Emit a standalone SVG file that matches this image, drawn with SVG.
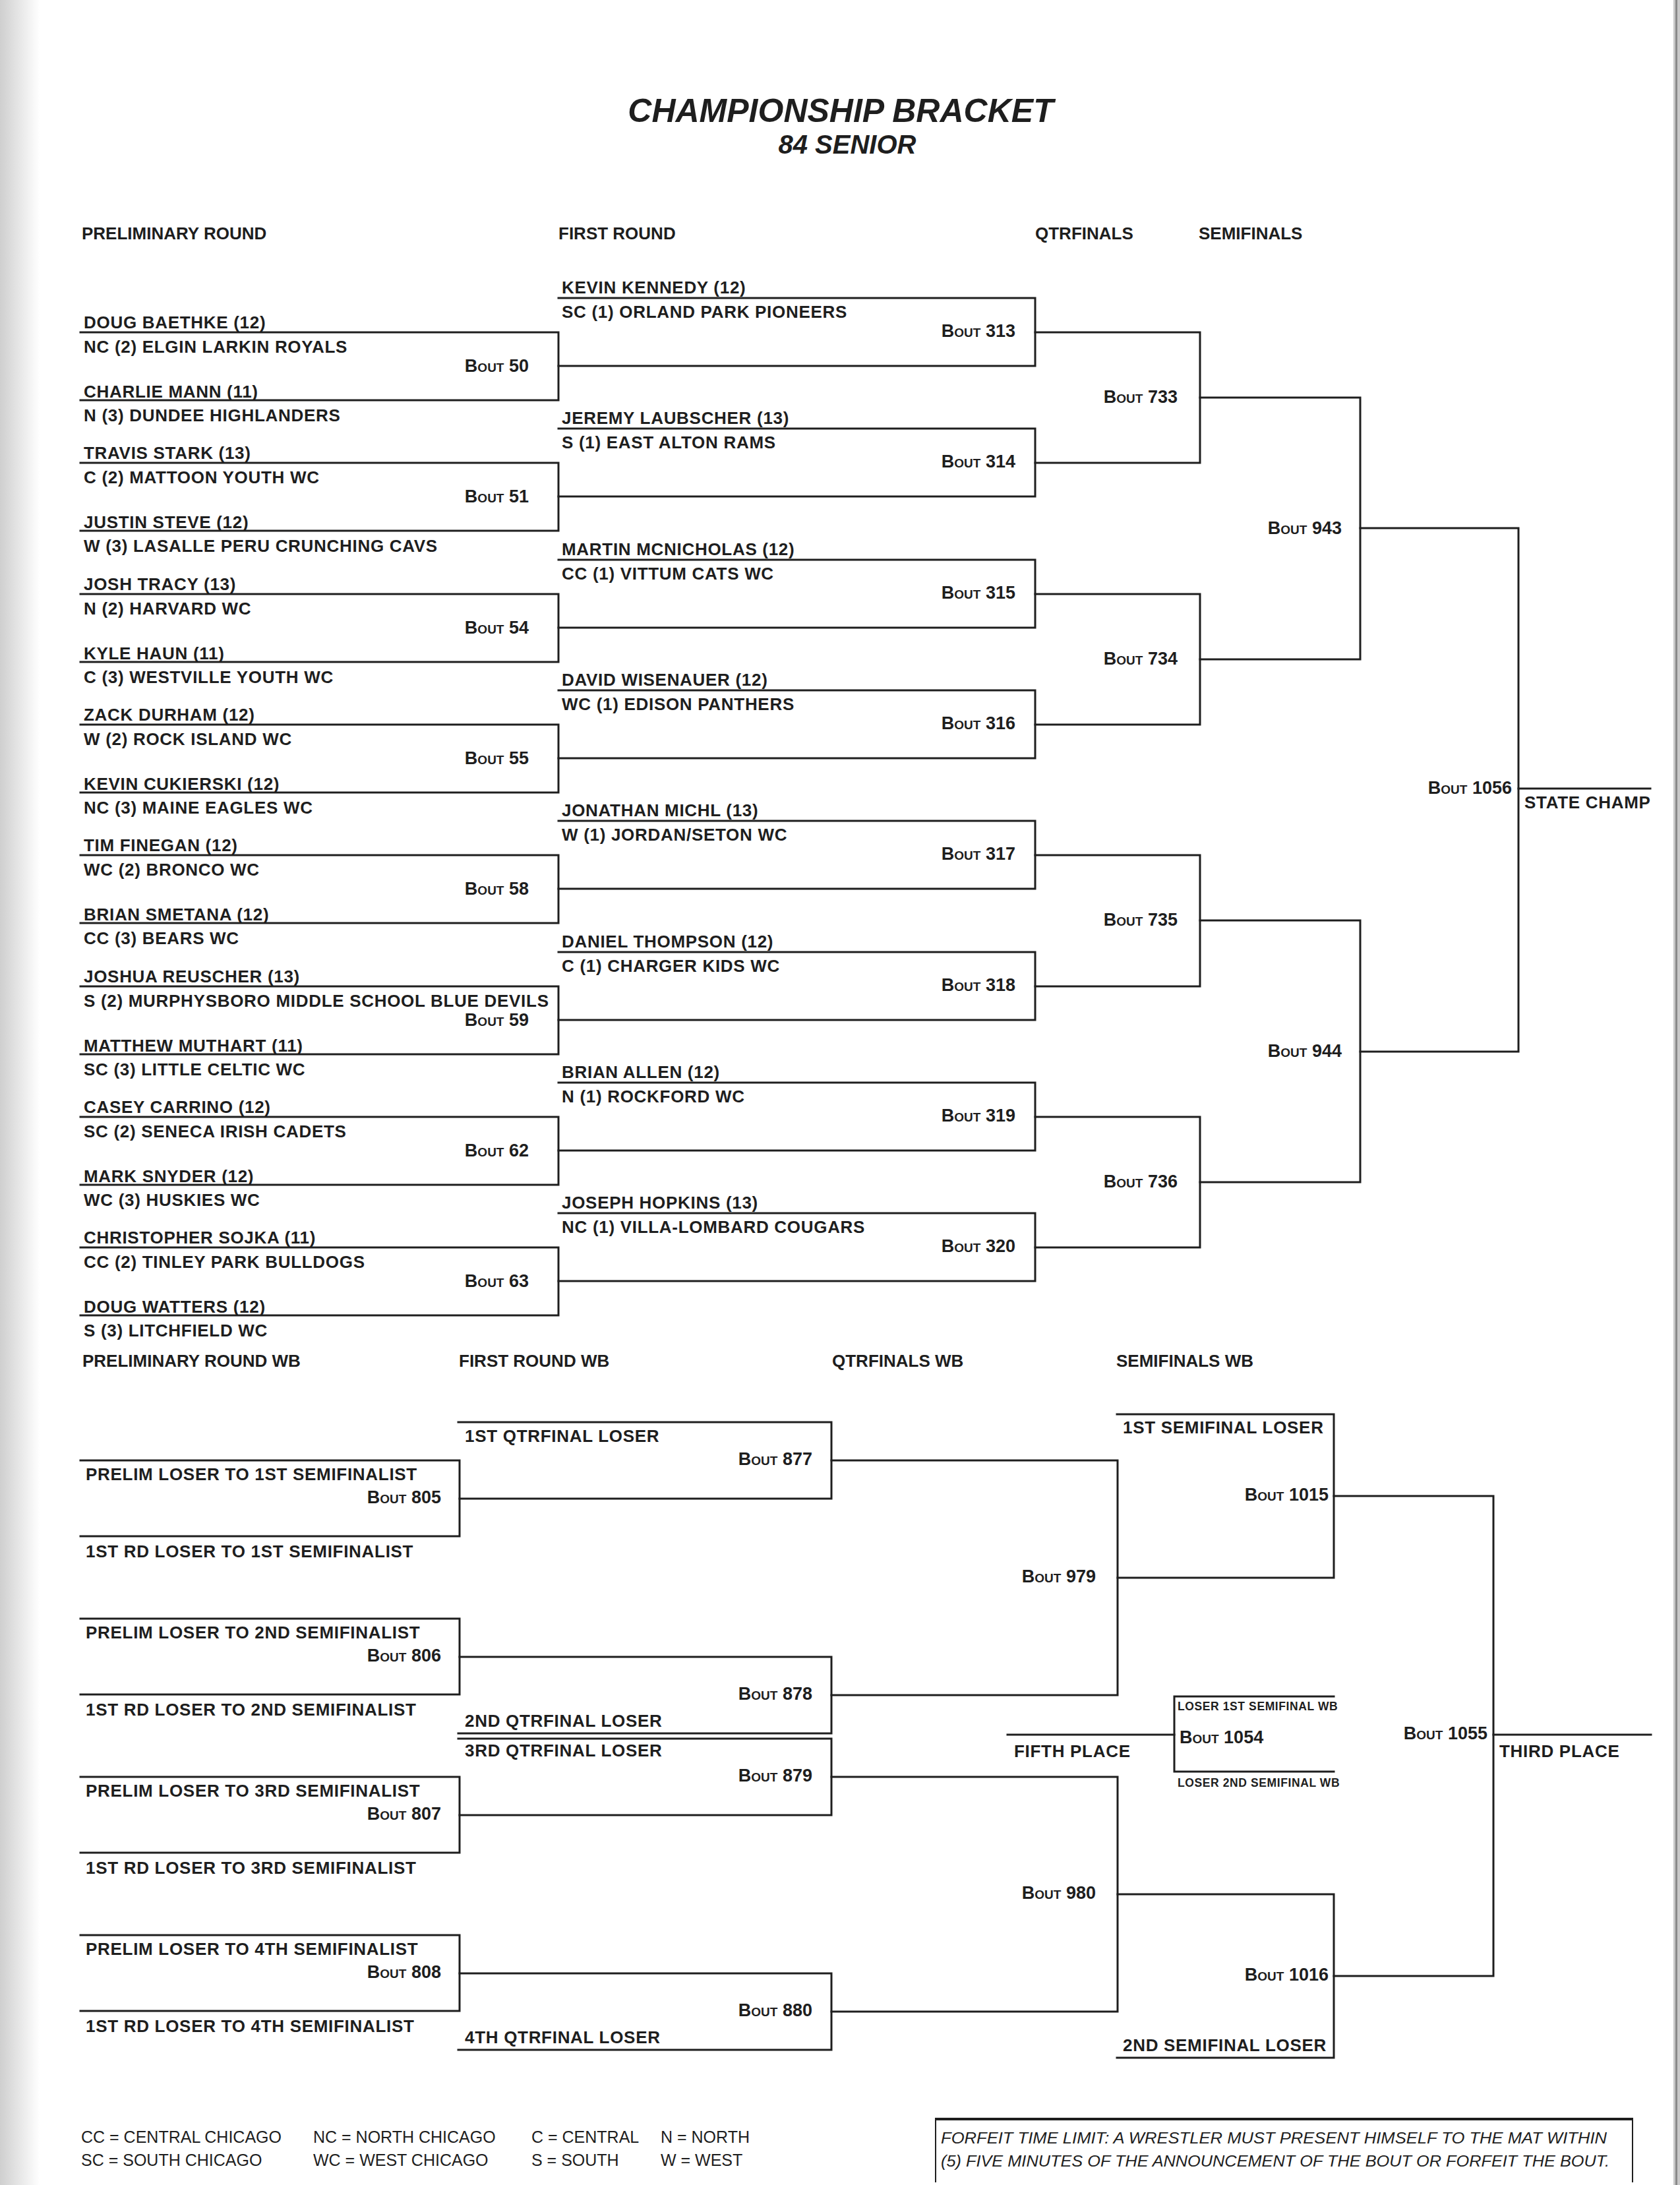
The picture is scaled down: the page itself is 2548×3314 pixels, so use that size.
<svg xmlns="http://www.w3.org/2000/svg" width="2548" height="3314" viewBox="0 0 2548 3314">
<style>
.ln{fill:none;stroke:#1e1e1e;stroke-width:3;stroke-linecap:square}
.t{font-family:"Liberation Sans",Arial,sans-serif;font-weight:bold;font-size:26px;letter-spacing:0.7px;fill:#1e1e1e}
.h{font-family:"Liberation Sans",Arial,sans-serif;font-weight:bold;font-size:26px;fill:#1e1e1e}
.b{font-family:"Liberation Sans",Arial,sans-serif;font-weight:bold;font-size:27px;font-variant:small-caps;fill:#1e1e1e;text-anchor:end}
.bs{font-family:"Liberation Sans",Arial,sans-serif;font-weight:bold;font-size:27px;font-variant:small-caps;fill:#1e1e1e}
.s{font-family:"Liberation Sans",Arial,sans-serif;font-weight:bold;font-size:17.5px;letter-spacing:0.6px;fill:#1e1e1e}
.lg{font-family:"Liberation Sans",Arial,sans-serif;font-size:25px;fill:#1e1e1e}
.ff{font-family:"Liberation Sans",Arial,sans-serif;font-style:italic;font-size:24px;fill:#1e1e1e}
.ttl{font-family:"Liberation Sans",Arial,sans-serif;font-weight:bold;font-style:italic;fill:#1e1e1e;text-anchor:middle}
</style>
<defs>
<linearGradient id="lshade" x1="0" y1="0" x2="1" y2="0">
<stop offset="0" stop-color="#cfcfcf"/>
<stop offset="1" stop-color="#ffffff"/>
</linearGradient>
</defs>
<rect x="0" y="0" width="2548" height="3314" fill="#ffffff"/>
<rect x="0" y="0" width="60" height="3314" fill="url(#lshade)"/>
<rect x="2538" y="0" width="10" height="3314" fill="#c8c8c8"/>
<rect x="2541" y="0" width="3" height="3314" fill="#8a8a8a"/>

<g id="title">
<text class="ttl" x="1275" y="185" font-size="50">CHAMPIONSHIP BRACKET</text>
<text class="ttl" x="1285" y="233" font-size="40">84 SENIOR</text>
</g>

<g id="headers">
<text class="h" x="124" y="363">PRELIMINARY ROUND</text>
<text class="h" x="847" y="363">FIRST ROUND</text>
<text class="h" x="1570" y="363">QTRFINALS</text>
<text class="h" x="1818" y="363">SEMIFINALS</text>
<text class="h" x="125" y="2073">PRELIMINARY ROUND WB</text>
<text class="h" x="696" y="2073">FIRST ROUND WB</text>
<text class="h" x="1262" y="2073">QTRFINALS WB</text>
<text class="h" x="1693" y="2073">SEMIFINALS WB</text>
</g>

<g id="connectors">
<path class="ln" d="M122,504 H847 V607 H122"/>
<path class="ln" d="M122,702 H847 V805 H122"/>
<path class="ln" d="M122,901 H847 V1004 H122"/>
<path class="ln" d="M122,1099 H847 V1202 H122"/>
<path class="ln" d="M122,1297 H847 V1400 H122"/>
<path class="ln" d="M122,1496 H847 V1599 H122"/>
<path class="ln" d="M122,1694 H847 V1797 H122"/>
<path class="ln" d="M122,1892 H847 V1995 H122"/>
<path class="ln" d="M847,452 H1570 V555 H847"/>
<path class="ln" d="M847,650 H1570 V753 H847"/>
<path class="ln" d="M847,849 H1570 V952 H847"/>
<path class="ln" d="M847,1047 H1570 V1150 H847"/>
<path class="ln" d="M847,1245 H1570 V1348 H847"/>
<path class="ln" d="M847,1444 H1570 V1547 H847"/>
<path class="ln" d="M847,1642 H1570 V1745 H847"/>
<path class="ln" d="M847,1840 H1570 V1943 H847"/>
<path class="ln" d="M1570,504 H1820 V702 H1570"/>
<path class="ln" d="M1570,901 H1820 V1099 H1570"/>
<path class="ln" d="M1570,1297 H1820 V1496 H1570"/>
<path class="ln" d="M1570,1694 H1820 V1892 H1570"/>
<path class="ln" d="M1820,603 H2063 V1000 H1820"/>
<path class="ln" d="M1820,1396 H2063 V1793 H1820"/>
<path class="ln" d="M2063,801 H2303 V1595 H2063"/>
<path class="ln" d="M2303,1196 H2503"/>
<path class="ln" d="M122,2215 H697 V2330 H122"/>
<path class="ln" d="M122,2455 H697 V2570 H122"/>
<path class="ln" d="M122,2695 H697 V2810 H122"/>
<path class="ln" d="M122,2935 H697 V3050 H122"/>
<path class="ln" d="M695,2157 H1261 V2273 H697"/>
<path class="ln" d="M697,2513 H1261 V2629 H695"/>
<path class="ln" d="M695,2637 H1261 V2753 H697"/>
<path class="ln" d="M697,2993 H1261 V3109 H695"/>
<path class="ln" d="M1261,2215 H1695 V2571 H1261"/>
<path class="ln" d="M1261,2695 H1695 V3051 H1261"/>
<path class="ln" d="M1694,2145 H2023 V2393 H1695"/>
<path class="ln" d="M1695,2873 H2023 V3121 H1694"/>
<path class="ln" d="M2023,2269 H2265 V2997 H2023"/>
<path class="ln" d="M2265,2631 H2504"/>
<path class="ln" d="M2023,2573 H1781 V2687 H2023"/>
<path class="ln" d="M1528,2631 H1781"/>
</g>

<g id="bout50">
<text class="t" x="127" y="498">DOUG BAETHKE (12)</text>
<text class="t" x="127" y="535">NC (2) ELGIN LARKIN  ROYALS</text>
<text class="b" x="802" y="564">Bout 50</text>
<text class="t" x="127" y="603">CHARLIE MANN (11)</text>
<text class="t" x="127" y="639">N (3) DUNDEE HIGHLANDERS</text>
</g>
<g id="bout51">
<text class="t" x="127" y="696">TRAVIS STARK (13)</text>
<text class="t" x="127" y="733">C (2) MATTOON YOUTH WC</text>
<text class="b" x="802" y="762">Bout 51</text>
<text class="t" x="127" y="801">JUSTIN STEVE (12)</text>
<text class="t" x="127" y="837">W (3) LASALLE PERU CRUNCHING CAVS</text>
</g>
<g id="bout54">
<text class="t" x="127" y="895">JOSH TRACY (13)</text>
<text class="t" x="127" y="932">N (2) HARVARD WC</text>
<text class="b" x="802" y="961">Bout 54</text>
<text class="t" x="127" y="1000">KYLE HAUN (11)</text>
<text class="t" x="127" y="1036">C (3) WESTVILLE YOUTH WC</text>
</g>
<g id="bout55">
<text class="t" x="127" y="1093">ZACK DURHAM (12)</text>
<text class="t" x="127" y="1130">W (2) ROCK ISLAND WC</text>
<text class="b" x="802" y="1159">Bout 55</text>
<text class="t" x="127" y="1198">KEVIN CUKIERSKI (12)</text>
<text class="t" x="127" y="1234">NC (3) MAINE EAGLES WC</text>
</g>
<g id="bout58">
<text class="t" x="127" y="1291">TIM FINEGAN (12)</text>
<text class="t" x="127" y="1328">WC (2) BRONCO WC</text>
<text class="b" x="802" y="1357">Bout 58</text>
<text class="t" x="127" y="1396">BRIAN SMETANA (12)</text>
<text class="t" x="127" y="1432">CC (3) BEARS WC</text>
</g>
<g id="bout59">
<text class="t" x="127" y="1490">JOSHUA REUSCHER (13)</text>
<text class="t" x="127" y="1527">S (2) MURPHYSBORO MIDDLE SCHOOL BLUE DEVILS</text>
<text class="b" x="802" y="1556">Bout 59</text>
<text class="t" x="127" y="1595">MATTHEW MUTHART (11)</text>
<text class="t" x="127" y="1631">SC (3) LITTLE CELTIC WC</text>
</g>
<g id="bout62">
<text class="t" x="127" y="1688">CASEY CARRINO (12)</text>
<text class="t" x="127" y="1725">SC (2) SENECA IRISH CADETS</text>
<text class="b" x="802" y="1754">Bout 62</text>
<text class="t" x="127" y="1793">MARK SNYDER (12)</text>
<text class="t" x="127" y="1829">WC (3) HUSKIES WC</text>
</g>
<g id="bout63">
<text class="t" x="127" y="1886">CHRISTOPHER SOJKA (11)</text>
<text class="t" x="127" y="1923">CC (2) TINLEY PARK BULLDOGS</text>
<text class="b" x="802" y="1952">Bout 63</text>
<text class="t" x="127" y="1991">DOUG WATTERS (12)</text>
<text class="t" x="127" y="2027">S (3) LITCHFIELD WC</text>
</g>

<g id="bout313">
<text class="t" x="852" y="445">KEVIN KENNEDY (12)</text>
<text class="t" x="852" y="482">SC (1) ORLAND PARK PIONEERS</text>
<text class="b" x="1540" y="511">Bout 313</text>
</g>
<g id="bout314">
<text class="t" x="852" y="643">JEREMY LAUBSCHER (13)</text>
<text class="t" x="852" y="680">S (1) EAST ALTON RAMS</text>
<text class="b" x="1540" y="709">Bout 314</text>
</g>
<g id="bout315">
<text class="t" x="852" y="842">MARTIN MCNICHOLAS (12)</text>
<text class="t" x="852" y="879">CC (1) VITTUM CATS WC</text>
<text class="b" x="1540" y="908">Bout 315</text>
</g>
<g id="bout316">
<text class="t" x="852" y="1040">DAVID WISENAUER (12)</text>
<text class="t" x="852" y="1077">WC (1) EDISON PANTHERS</text>
<text class="b" x="1540" y="1106">Bout 316</text>
</g>
<g id="bout317">
<text class="t" x="852" y="1238">JONATHAN MICHL (13)</text>
<text class="t" x="852" y="1275">W (1) JORDAN/SETON WC</text>
<text class="b" x="1540" y="1304">Bout 317</text>
</g>
<g id="bout318">
<text class="t" x="852" y="1437">DANIEL THOMPSON (12)</text>
<text class="t" x="852" y="1474">C (1) CHARGER KIDS WC</text>
<text class="b" x="1540" y="1503">Bout 318</text>
</g>
<g id="bout319">
<text class="t" x="852" y="1635">BRIAN ALLEN (12)</text>
<text class="t" x="852" y="1672">N (1) ROCKFORD WC</text>
<text class="b" x="1540" y="1701">Bout 319</text>
</g>
<g id="bout320">
<text class="t" x="852" y="1833">JOSEPH HOPKINS (13)</text>
<text class="t" x="852" y="1870">NC (1) VILLA-LOMBARD COUGARS</text>
<text class="b" x="1540" y="1899">Bout 320</text>
</g>

<g id="bout733"><text class="b" x="1786" y="611">Bout 733</text></g>
<g id="bout734"><text class="b" x="1786" y="1008">Bout 734</text></g>
<g id="bout735"><text class="b" x="1786" y="1404">Bout 735</text></g>
<g id="bout736"><text class="b" x="1786" y="1801">Bout 736</text></g>
<g id="bout943"><text class="b" x="2035" y="810">Bout 943</text></g>
<g id="bout944"><text class="b" x="2035" y="1603">Bout 944</text></g>
<g id="bout1056">
<text class="b" x="2293" y="1204">Bout 1056</text>
<text class="t" x="2312" y="1226">STATE CHAMP</text>
</g>

<g id="bout805">
<text class="t" x="130" y="2245">PRELIM LOSER TO 1ST SEMIFINALIST</text>
<text class="b" x="669" y="2280">Bout 805</text>
<text class="t" x="130" y="2362">1ST RD LOSER TO 1ST SEMIFINALIST</text>
</g>
<g id="bout806">
<text class="t" x="130" y="2485">PRELIM LOSER TO 2ND SEMIFINALIST</text>
<text class="b" x="669" y="2520">Bout 806</text>
<text class="t" x="130" y="2602">1ST RD LOSER TO 2ND SEMIFINALIST</text>
</g>
<g id="bout807">
<text class="t" x="130" y="2725">PRELIM LOSER TO 3RD SEMIFINALIST</text>
<text class="b" x="669" y="2760">Bout 807</text>
<text class="t" x="130" y="2842">1ST RD LOSER TO 3RD SEMIFINALIST</text>
</g>
<g id="bout808">
<text class="t" x="130" y="2965">PRELIM LOSER TO 4TH SEMIFINALIST</text>
<text class="b" x="669" y="3000">Bout 808</text>
<text class="t" x="130" y="3082">1ST RD LOSER TO 4TH SEMIFINALIST</text>
</g>

<g id="bout877">
<text class="t" x="705" y="2187">1ST QTRFINAL LOSER</text>
<text class="b" x="1232" y="2222">Bout 877</text>
</g>
<g id="bout878">
<text class="b" x="1232" y="2578">Bout 878</text>
<text class="t" x="705" y="2619">2ND QTRFINAL LOSER</text>
</g>
<g id="bout879">
<text class="t" x="705" y="2664">3RD QTRFINAL LOSER</text>
<text class="b" x="1232" y="2702">Bout 879</text>
</g>
<g id="bout880">
<text class="b" x="1232" y="3058">Bout 880</text>
<text class="t" x="705" y="3099">4TH QTRFINAL LOSER</text>
</g>

<g id="bout979"><text class="b" x="1662" y="2400">Bout 979</text></g>
<g id="bout980"><text class="b" x="1662" y="2880">Bout 980</text></g>

<g id="bout1015">
<text class="t" x="1703" y="2174">1ST SEMIFINAL LOSER</text>
<text class="b" x="2015" y="2276">Bout 1015</text>
</g>
<g id="bout1016">
<text class="b" x="2015" y="3004">Bout 1016</text>
<text class="t" x="1703" y="3111">2ND SEMIFINAL LOSER</text>
</g>
<g id="bout1054">
<text class="s" x="1786" y="2594">LOSER 1ST SEMIFINAL WB</text>
<text class="bs" x="1789" y="2644">Bout 1054</text>
<text class="s" x="1786" y="2710">LOSER 2ND SEMIFINAL WB</text>
<text class="t" x="1538" y="2665">FIFTH PLACE</text>
</g>
<g id="bout1055">
<text class="b" x="2256" y="2638">Bout 1055</text>
<text class="t" x="2274" y="2665">THIRD PLACE</text>
</g>

<g id="legend">
<text class="lg" x="123" y="3250">CC = CENTRAL CHICAGO</text>
<text class="lg" x="123" y="3285">SC = SOUTH CHICAGO</text>
<text class="lg" x="475" y="3250">NC = NORTH CHICAGO</text>
<text class="lg" x="475" y="3285">WC = WEST CHICAGO</text>
<text class="lg" x="806" y="3250">C = CENTRAL</text>
<text class="lg" x="806" y="3285">S = SOUTH</text>
<text class="lg" x="1002" y="3250">N = NORTH</text>
<text class="lg" x="1002" y="3285">W = WEST</text>
</g>

<g id="forfeit">
<path d="M1419,3310 V3213 H2476 V3310" fill="none" stroke="#1e1e1e" stroke-width="2"/>
<path d="M1419,3214 H2476" fill="none" stroke="#1e1e1e" stroke-width="4"/>
<text class="ff" x="1427" y="3251" textLength="1010" lengthAdjust="spacingAndGlyphs">FORFEIT TIME LIMIT: A WRESTLER MUST PRESENT HIMSELF TO THE MAT WITHIN</text>
<text class="ff" x="1427" y="3286" textLength="1014" lengthAdjust="spacingAndGlyphs">(5) FIVE MINUTES OF THE ANNOUNCEMENT OF THE BOUT OR FORFEIT THE BOUT.</text>
</g>
</svg>
